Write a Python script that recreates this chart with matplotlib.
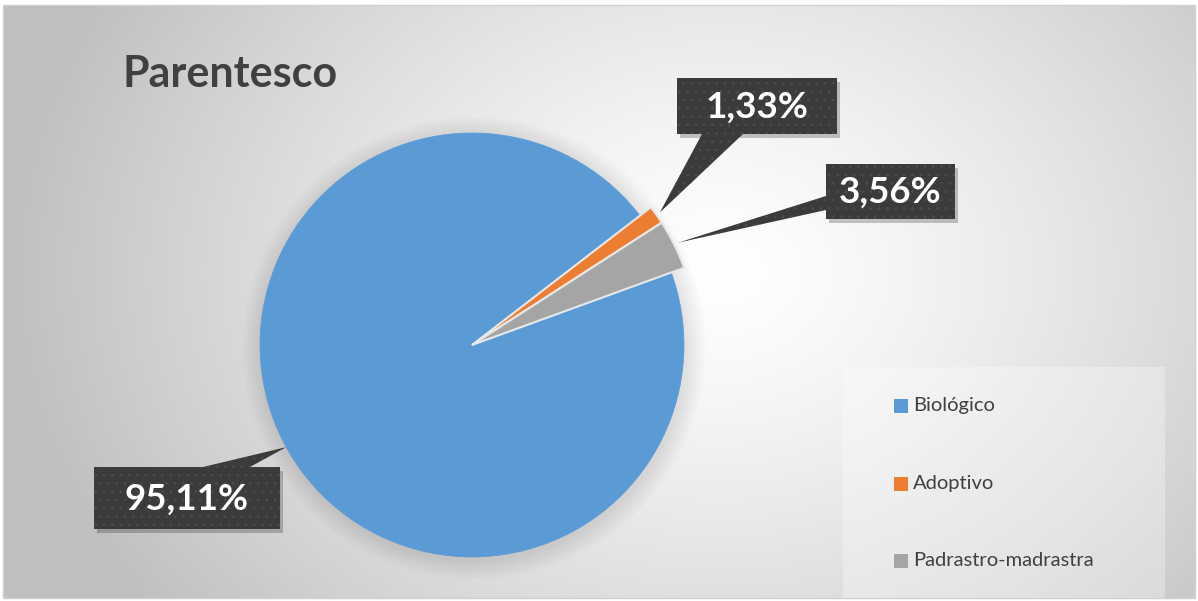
import numpy as np
import matplotlib
matplotlib.use("Agg")
import matplotlib.pyplot as plt
from matplotlib.patches import Rectangle, Polygon

# dados
categorias = ["Biológico", "Adoptivo", "Padrastro-madrastra"]
valores = [95.11, 1.33, 3.56]
cores = ["#5B9BD5", "#ED7D31", "#A5A5A5"]
titulo = "Parentesco"

plt.rcParams["hatch.linewidth"] = 0.5

W, H = 1198, 601
fig = plt.figure(figsize=(W / 100, H / 100), dpi=100)
ax = fig.add_axes([0, 0, 1, 1])
ax.set_xlim(0, W)
ax.set_ylim(0, H)
ax.set_aspect("equal")
ax.axis("off")

def py(y):  # pixel y (top-down) -> data y
    return H - y

# fundo com gradiente radial
xx, yy = np.meshgrid(np.arange(W), np.arange(H))
d = np.sqrt(((xx - 720) / 1.0) ** 2 + ((yy - 270) / 0.8) ** 2)
g = 1.0 - 0.25 * np.clip(d / 720, 0, 1) ** 1.3
bg = np.dstack([g, g, g])
ax.imshow(bg, extent=(3, W - 3, 3, H - 5), origin="upper", zorder=0)
ax.add_patch(Rectangle((3, 3), W - 6, H - 8, fill=False, ec="#d0d0d0", lw=1, zorder=1))

# sombra suave da tarte
cx, cy, r = 472, py(345), 212
for k in range(8):
    ax.add_patch(plt.Circle((cx + 2, cy - 3), r + 2 + k * 2.5, color="#000000",
                            alpha=0.012, lw=0, zorder=1))

wedges, _ = ax.pie(valores, colors=cores, startangle=20, counterclock=False,
                   center=(cx, cy), radius=r, frame=True,
                   wedgeprops=dict(edgecolor="#e8e8e8", linewidth=1.5))
wedges[0].set_edgecolor(cores[0])
wedges[0].set_linewidth(0.5)
for w in wedges[1:]:
    w.set_radius(r * 1.065)
for w in wedges:
    w.set_zorder(3)
ax.set_xlim(0, W)
ax.set_ylim(0, H)
ax.axis("off")

def fmt(v):
    return ("%.2f%%" % v).replace(".", ",")

# caixas das etiquetas (x0, y0, x1, y1 em pixeis) e base do ponteiro
caixas = [
    ((94, 467, 280, 529), [(203, 467), (250, 467)], 1.0),
    ((677, 78, 837, 134), [(702, 134), (743, 134)], 1.085),
    ((826, 164, 955, 219), [(826, 196), (826, 210)], 1.085),
]
for w, v, (box, base, rf) in zip(wedges, valores, caixas):
    x0, y0, x1, y1 = box
    mid = np.deg2rad((w.theta1 + w.theta2) / 2)
    tx = cx + r * rf * np.cos(mid)
    ty = cy + r * rf * np.sin(mid)
    # sombra
    ax.add_patch(Rectangle((x0 + 3, py(y1) - 4), x1 - x0, y1 - y0, fc="#000000",
                           alpha=0.22, lw=0, zorder=4))
    pts = [(base[0][0], py(base[0][1])), (tx, ty), (base[1][0], py(base[1][1]))]
    ax.add_patch(Polygon(pts, closed=True, fc="#3b3b3b", ec="#4f4f4f", lw=0,
                         hatch="..", zorder=5))
    ax.add_patch(Rectangle((x0, py(y1)), x1 - x0, y1 - y0, fc="#3b3b3b",
                           ec="#4f4f4f", lw=0, hatch="..", zorder=5))
    ax.text((x0 + x1) / 2, py((y0 + y1) / 2) - 1, fmt(v), color="white",
            fontsize=26.5, fontweight="bold", family="Lato", ha="center",
            va="center", zorder=6)

# título
ax.text(122, py(74), titulo, fontsize=31, fontweight="bold", family="Lato",
        color="#404040", ha="left", va="center", zorder=6)

# legenda
ax.add_patch(Rectangle((843, 3), 1165 - 843, py(367) - 3, fc="white", alpha=0.3,
                       lw=0, zorder=2))
for i, (c, col) in enumerate(zip(categorias, cores)):
    yc = py(406 + i * 77.5)
    ax.add_patch(Rectangle((894, yc - 7), 14, 14, fc=col, lw=0, zorder=6))
    ax.text(913, yc, c, fontsize=14.5, family="Lato", color="#404040",
            ha="left", va="center", zorder=6)

fig.savefig("out.png", dpi=100)
